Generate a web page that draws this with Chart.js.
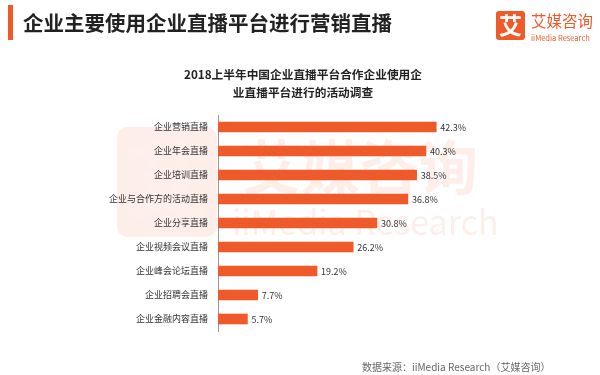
<!DOCTYPE html>
<html><head><meta charset="utf-8">
<script src="https://cdn.jsdelivr.net/npm/chart.js@4"></script>
<style>html,body{margin:0;padding:0;background:#fff;}#wrap{width:600px;height:375px;position:relative;}</style>
</head><body><div id="wrap"><canvas id="c" width="600" height="375"></canvas></div>
<script>
const categories = ["企业营销直播","企业年会直播","企业培训直播","企业与合作方的活动直播","企业分享直播","企业视频会议直播","企业峰会论坛直播","企业招聘会直播","企业金融内容直播"];
const values = [42.3,40.3,38.5,36.8,30.8,26.2,19.2,7.7,5.7];
const mainTitle = "企业主要使用企业直播平台进行营销直播";
const subTitle = ["2018上半年中国企业直播平台合作企业使用企","业直播平台进行的活动调查"];
const sourceText = "数据来源：iiMedia Research（艾媒咨询）";
const ORANGE = "#EF5A2A";
const FONT = '"Noto Sans CJK SC","Noto Sans",sans-serif';

const deco = {
  id:'deco',
  beforeDraw(chart){
    const ctx = chart.ctx;
    ctx.save();
    ctx.fillStyle='#fff'; ctx.fillRect(0,0,600,375);
    // watermark
    ctx.globalAlpha=0.1;
    ctx.fillStyle=ORANGE;
    ctx.beginPath(); ctx.roundRect(117,127,100,110,10); ctx.fill();
    ctx.fillStyle='#fff'; ctx.font='bold 84px '+FONT; ctx.textAlign='center'; ctx.textBaseline='middle';
    ctx.fillText('艾',167,180);
    ctx.fillStyle=ORANGE; ctx.font='bold 59px '+FONT; ctx.textAlign='left';
    ctx.fillText('艾媒咨询',242,168);
    ctx.font='34px '+FONT;
    ctx.fillText('iiMedia Research',232,222);
    ctx.restore();
  },
  afterDraw(chart){
    const ctx = chart.ctx;
    ctx.save();
    // title bar
    ctx.fillStyle=ORANGE; ctx.fillRect(8,5,5,35);
    ctx.fillStyle='#222'; ctx.font='bold 20.5px '+FONT; ctx.textBaseline='middle'; ctx.textAlign='left';
    ctx.fillText(mainTitle,23,23);
    // logo
    ctx.fillStyle=ORANGE; ctx.beginPath(); ctx.roundRect(496,11,29,29,3); ctx.fill();
    ctx.fillStyle='#fff'; ctx.font='bold 23px '+FONT; ctx.textAlign='center'; ctx.fillText('艾',510.5,25.5);
    ctx.fillStyle=ORANGE; ctx.textAlign='left'; ctx.font='15.5px '+FONT; ctx.fillText('艾媒咨询',531,21);
    ctx.font='7.5px '+FONT; ctx.fillText('iiMedia Research',531,38);
    // subtitle
    ctx.fillStyle='#222'; ctx.font='bold 11.7px '+FONT; ctx.textAlign='center';
    ctx.fillText(subTitle[0],303,75); ctx.fillText(subTitle[1],303,93);
    // source
    ctx.fillStyle='#666'; ctx.font='10px '+FONT; ctx.textAlign='left';
    ctx.fillText(sourceText,362,367);
    // value labels
    const meta = chart.getDatasetMeta(0);
    ctx.fillStyle='#333'; ctx.font='9px '+FONT; ctx.textAlign='left';
    meta.data.forEach((b,i)=>{ ctx.fillText(values[i].toFixed(1)+'%', b.x+4, b.y+1); });
    ctx.restore();
  }
};

new Chart(document.getElementById('c'),{
  type:'bar',
  data:{labels:categories,datasets:[{data:values,backgroundColor:ORANGE,barThickness:10}]},
  plugins:[deco],
  options:{
    indexAxis:'y',responsive:false,animation:false,
    layout:{padding:{left:0,right:124,top:115,bottom:44}},
    plugins:{legend:{display:false},tooltip:{enabled:false}},
    scales:{
      x:{display:false,min:0,max:50},
      y:{
        afterFit(s){s.width=218;},
        grid:{display:false,drawTicks:false},
        border:{display:true,color:'#999',width:1},
        ticks:{color:'#333',font:{size:9,family:FONT},padding:10,autoSkip:false}
      }
    }
  }
});
</script></body></html>
